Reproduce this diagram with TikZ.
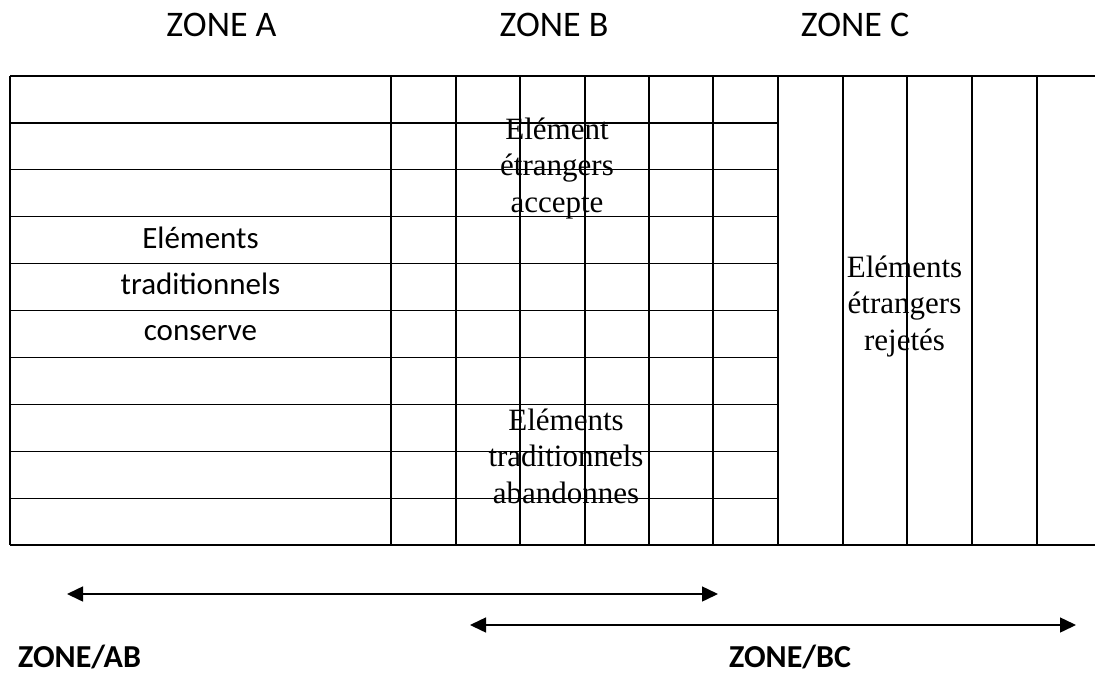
\documentclass[tikz,border=0pt]{standalone}
\usepackage{fontspec}
\setmainfont{Liberation Serif}
\newfontfamily\zonesans{Carlito}
\usetikzlibrary{arrows.meta}
\tikzset{
gridline/.style={line width=1.2pt,black},
zonehead/.style={font=\zonesans\fontsize{36}{43}\selectfont,anchor=base,inner sep=0pt},
zonelabel/.style={font=\zonesans\bfseries\fontsize{32}{38}\selectfont,anchor=base west,inner sep=0pt},
sanscell/.style={font=\zonesans\fontsize{31}{46}\selectfont,align=center,anchor=base,inner sep=0pt},
serifcell/.style={font=\fontsize{31}{36.5}\selectfont,align=center,anchor=base,inner sep=0pt},
spanarrow/.style={{Triangle[length=16pt,width=15pt]}-{Triangle[length=16pt,width=15pt]},line width=1.5pt}
}
\begin{document}
\begin{tikzpicture}[x=1pt,y=-1pt]
\useasboundingbox (0,0) rectangle (1095,675);
% headers
\node[zonehead] (za) at (221.5,36) {ZONE A};
\node[zonehead] (zb) at (554,36) {ZONE B};
\node[zonehead] (zc) at (855,36) {ZONE C};
% grid
\draw[gridline] (10,76) -- (1095,76);
\draw[gridline] (10,545) -- (1095,545);
\foreach \r in {1,...,9}
  \draw[gridline] (10,{76+\r*46.9}) -- (778,{76+\r*46.9});
\foreach \x in {10,391,456,520,585,649,713,778,843,907,972,1037}
  \draw[gridline] (\x,76) -- (\x,545);
% cell texts (base = last line)
\node[sanscell] (keep) at (200.5,340) {Eléments\\traditionnels\\conserve};
\node[serifcell] (accept) at (557,212) {Elément\\étrangers\\accepte};
\node[serifcell] (drop) at (566,503) {Eléments\\traditionnels\\abandonnes};
\node[serifcell] (reject) at (904.5,350) {Eléments\\étrangers\\rejetés};
% spans
\coordinate (ab-l) at (67,594);
\coordinate (ab-r) at (718,594);
\coordinate (bc-l) at (470,625);
\coordinate (bc-r) at (1076,625);
\draw[spanarrow] (ab-l) -- (ab-r);
\draw[spanarrow] (bc-l) -- (bc-r);
\node[zonelabel] (lab) at (18,667) {ZONE/AB};
\node[zonelabel] (lbc) at (729,667) {ZONE/BC};
\end{tikzpicture}
\end{document}
